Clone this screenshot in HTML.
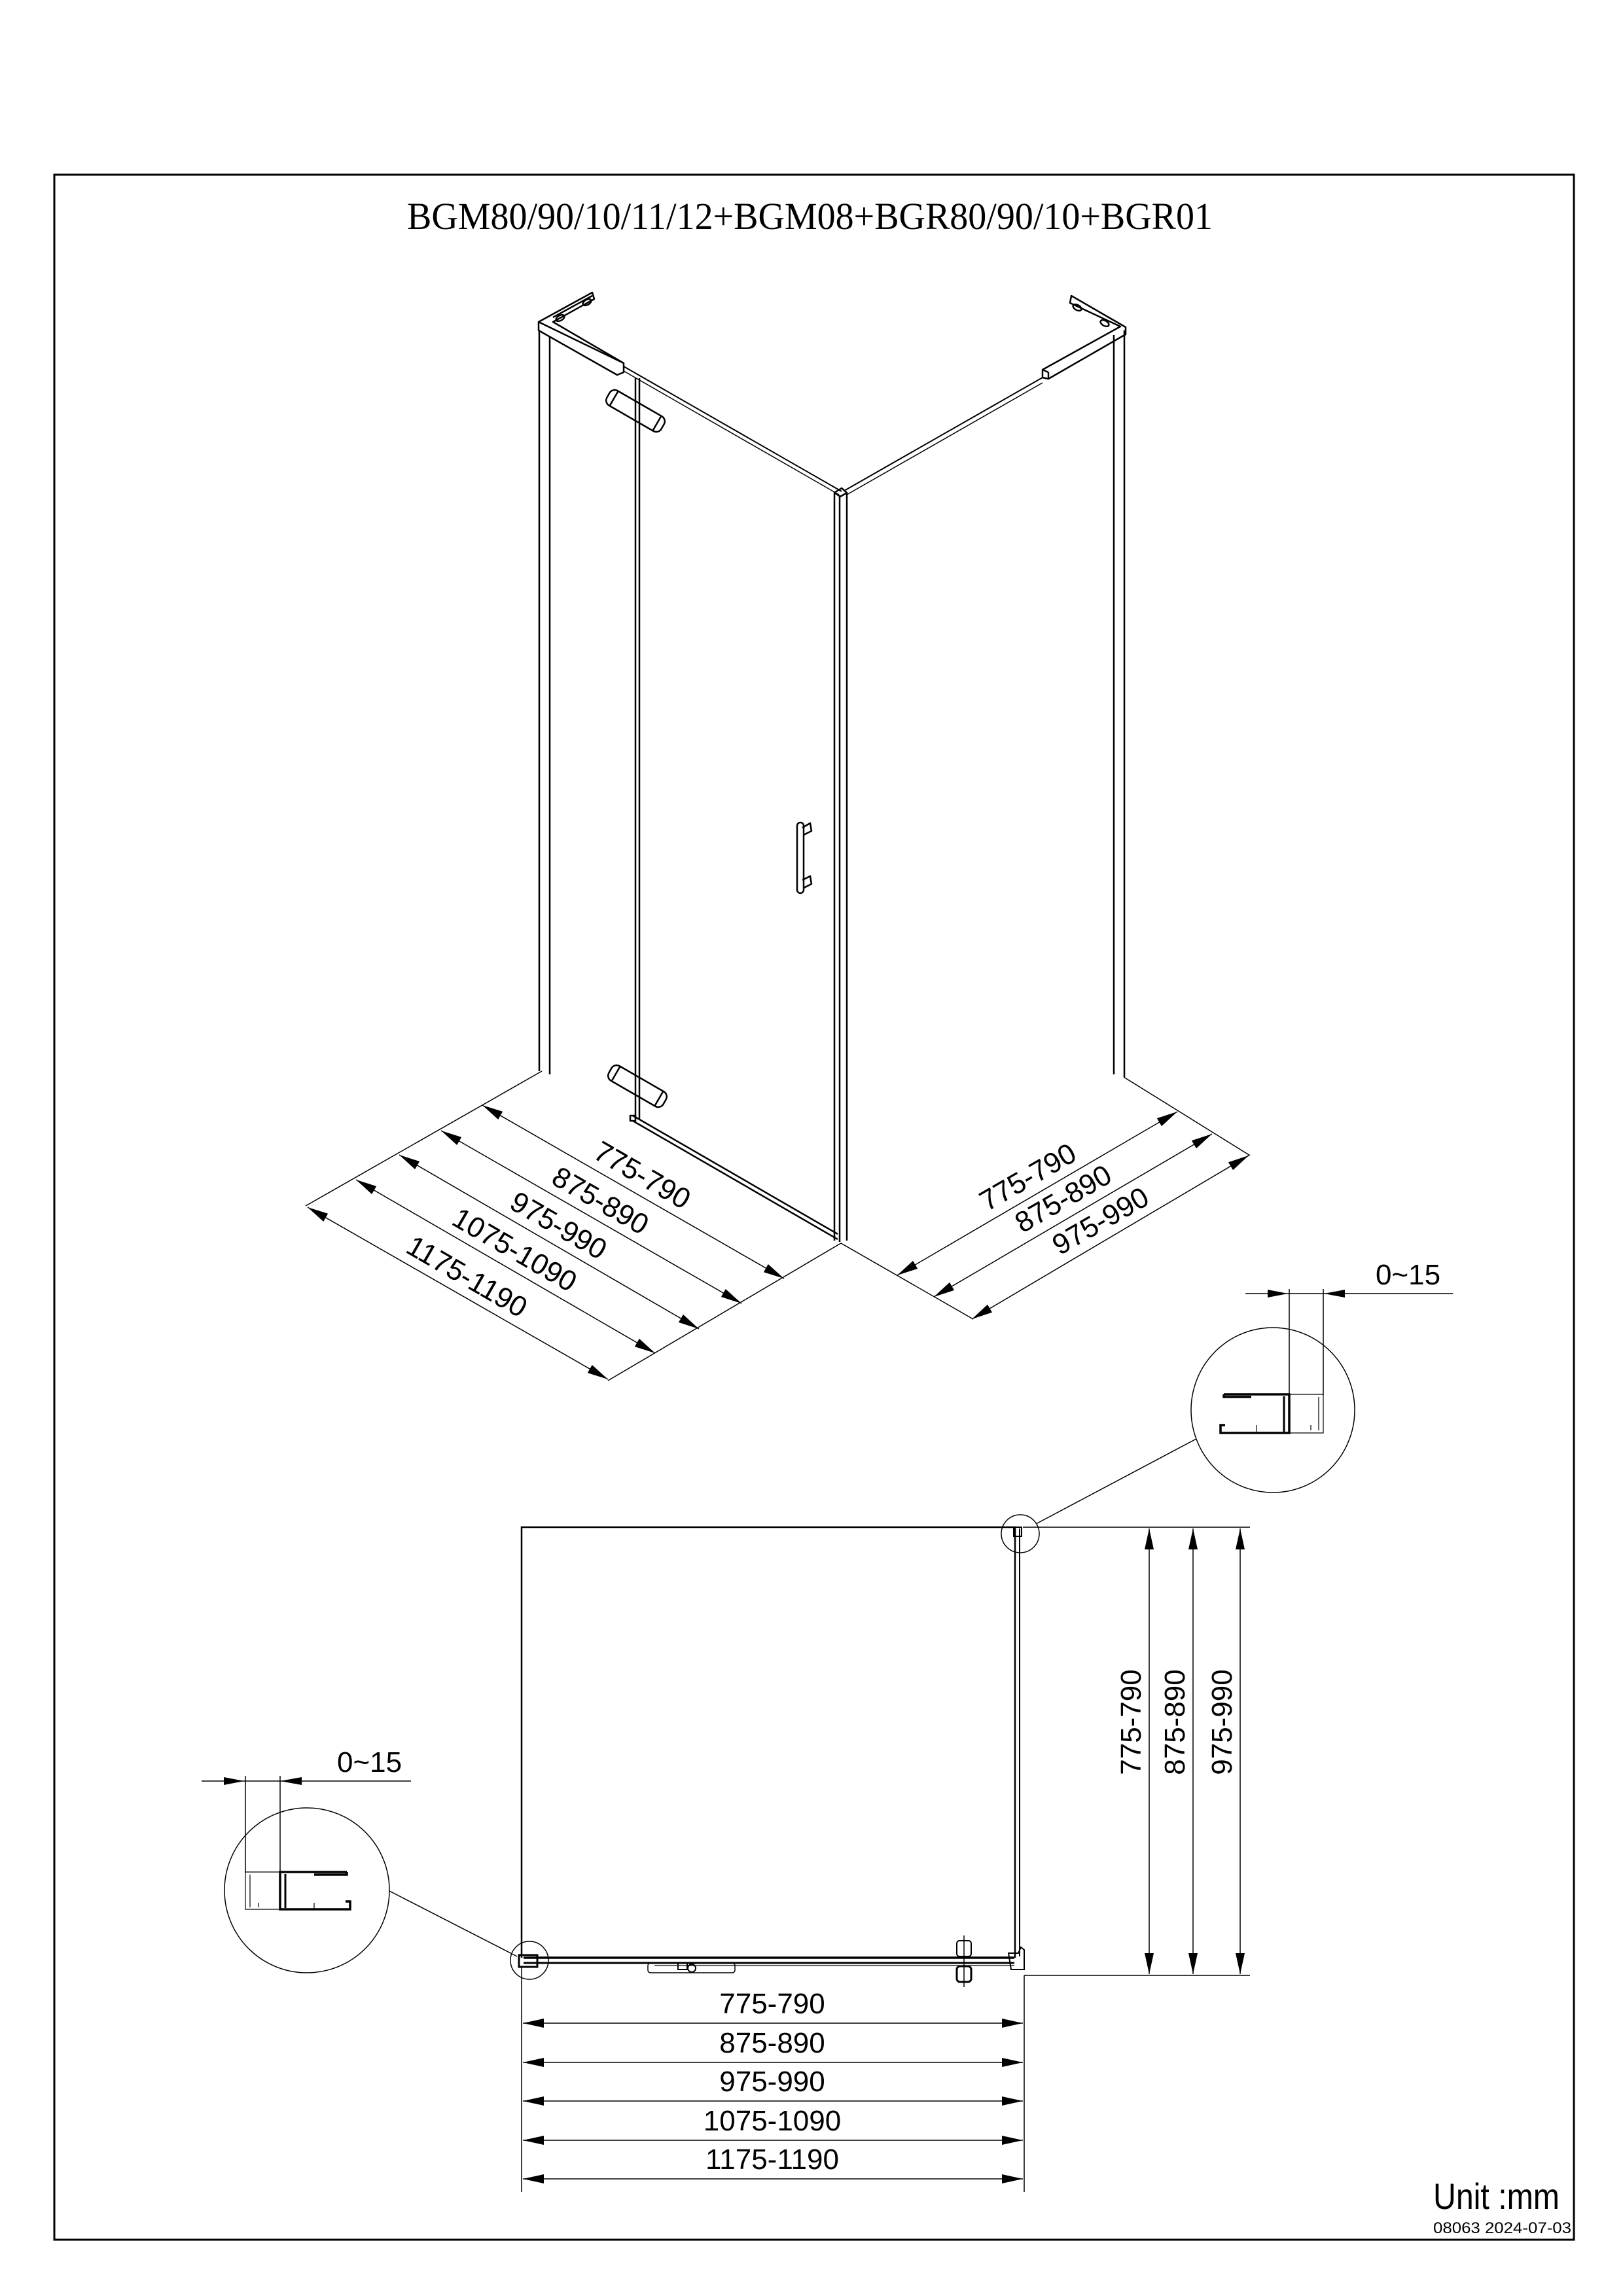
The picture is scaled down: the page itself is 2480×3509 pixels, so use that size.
<!DOCTYPE html>
<html><head><meta charset="utf-8"><style>
html,body{margin:0;padding:0;background:#fff}
svg{display:block}
text{font-family:"Liberation Sans",sans-serif;fill:#000}
</style></head><body>
<svg width="2480" height="3509" viewBox="0 0 2480 3509" xmlns="http://www.w3.org/2000/svg">
<defs>
<marker id="a" markerUnits="userSpaceOnUse" markerWidth="34" markerHeight="14" refX="32" refY="7" orient="auto-start-reverse"><path d="M0,0 L32,7 L0,14 Z" fill="#000"/></marker>
</defs>
<rect x="83" y="267" width="2322" height="3156" fill="none" stroke="#000" stroke-width="3"/>
<text x="622" y="350" font-family="Liberation Serif" font-size="58" textLength="1231" lengthAdjust="spacingAndGlyphs" style="font-family:'Liberation Serif',serif">BGM80/90/10/11/12+BGM08+BGR80/90/10+BGR01</text>

<g fill="none" stroke="#000" stroke-width="2.5" stroke-linejoin="round">
<!-- left bracket -->
<path d="M823,492 L905,447 L908,457 L845,492 L953,555 L953,569 L943,573 L823,505 Z"/>
<path d="M823,492 L953,555"/>
<path d="M845,485 L905,452"/>
<ellipse cx="856" cy="486" rx="7" ry="4" transform="rotate(-30 856 486)"/>
<ellipse cx="897" cy="462" rx="7" ry="4" transform="rotate(-30 897 462)"/>
<!-- left post -->
<line x1="824" y1="505" x2="824" y2="1637"/>
<line x1="840" y1="514" x2="840" y2="1642"/>
<!-- door hinge edge -->
<line x1="971" y1="578" x2="971" y2="1710"/>
<line x1="977" y1="578" x2="977" y2="1710"/>
<!-- top door edge -->
<line x1="953" y1="560" x2="1286" y2="751" stroke-width="2"/>
<line x1="953" y1="567" x2="1282" y2="756" stroke-width="1.5"/>
<!-- corner post -->
<line x1="1275" y1="753" x2="1275" y2="1896"/>
<line x1="1283" y1="757" x2="1283" y2="1898"/>
<line x1="1294" y1="753" x2="1294" y2="1896"/>
<path d="M1275,753 L1286,746 L1294,753 L1284,759 Z"/>
<!-- right top edge -->
<line x1="1290" y1="750" x2="1593" y2="577" stroke-width="2"/>
<line x1="1294" y1="756" x2="1593" y2="585" stroke-width="1.5"/>
<!-- right bracket -->
<path d="M1635,463 L1637,452 L1720,500 L1720,511 L1602,579 L1593,577 L1593,565 L1712,499 Z"/>
<line x1="1593" y1="565" x2="1602" y2="569"/><line x1="1602" y1="569" x2="1602" y2="579"/>
<ellipse cx="1646" cy="470" rx="7" ry="4" transform="rotate(30 1646 470)"/>
<ellipse cx="1688" cy="494" rx="7" ry="4" transform="rotate(30 1688 494)"/>
<!-- right post -->
<line x1="1702" y1="512" x2="1702" y2="1642"/>
<line x1="1718" y1="505" x2="1718" y2="1646"/>
<!-- top hinge -->
<g transform="translate(971,628) rotate(30)"><rect x="-48" y="-13" width="96" height="26" rx="9"/><line x1="-38" y1="-13" x2="-38" y2="13"/><line x1="38" y1="-13" x2="38" y2="13"/></g>
<!-- bottom hinge -->
<g transform="translate(974,1660) rotate(30)"><rect x="-48" y="-13" width="96" height="26" rx="9"/><line x1="-38" y1="-13" x2="-38" y2="13"/><line x1="38" y1="-13" x2="38" y2="13"/></g>
<!-- handle -->
<rect x="1218" y="1257" width="10" height="108" rx="5"/>
<path d="M1226,1265 L1238,1258 L1240,1270 L1228,1276"/>
<path d="M1226,1345 L1238,1339 L1240,1351 L1228,1357"/>
<!-- door bottom -->
<line x1="967" y1="1705" x2="1280" y2="1886"/>
<line x1="967" y1="1713" x2="1280" y2="1894"/>
<rect x="963" y="1705" width="8" height="8"/>
<!-- floor / extension lines -->
<line x1="828" y1="1637" x2="467" y2="1843" stroke-width="1.5"/>
<line x1="1285" y1="1900" x2="929" y2="2110" stroke-width="1.5"/>
<line x1="1717" y1="1646" x2="1910" y2="1766" stroke-width="1.5"/>
<line x1="1285" y1="1900" x2="1487" y2="2016" stroke-width="1.5"/>
</g>

<!-- left iso dims -->
<g stroke="#000" stroke-width="1.5" fill="none">
<line x1="737" y1="1689" x2="1198" y2="1954" marker-start="url(#a)" marker-end="url(#a)"/>
<line x1="674" y1="1728" x2="1133" y2="1992" marker-start="url(#a)" marker-end="url(#a)"/>
<line x1="610" y1="1765" x2="1068" y2="2031" marker-start="url(#a)" marker-end="url(#a)"/>
<line x1="544" y1="1803" x2="1001" y2="2068" marker-start="url(#a)" marker-end="url(#a)"/>
<line x1="470" y1="1845" x2="929" y2="2108" marker-start="url(#a)" marker-end="url(#a)"/>
<line x1="1371" y1="1949" x2="1799" y2="1699" marker-start="url(#a)" marker-end="url(#a)"/>
<line x1="1427" y1="1982" x2="1852" y2="1733" marker-start="url(#a)" marker-end="url(#a)"/>
<line x1="1485" y1="2016" x2="1908" y2="1766" marker-start="url(#a)" marker-end="url(#a)"/>
</g>
<g font-size="44" text-anchor="middle">
<text transform="translate(967,1821) rotate(30)" x="0" y="-14">775-790</text>
<text transform="translate(903,1860) rotate(30)" x="0" y="-14">875-890</text>
<text transform="translate(839,1898) rotate(30)" x="0" y="-14">975-990</text>
<text transform="translate(772,1935) rotate(30)" x="0" y="-14">1075-1090</text>
<text transform="translate(699,1976) rotate(30)" x="0" y="-14">1175-1190</text>
<text transform="translate(1585,1824) rotate(-30)" x="0" y="-14">775-790</text>
<text transform="translate(1639,1857) rotate(-30)" x="0" y="-14">875-890</text>
<text transform="translate(1696,1891) rotate(-30)" x="0" y="-14">975-990</text>
</g>

<!-- top right detail -->
<g stroke="#000" fill="none">
<line x1="1903" y1="1977" x2="2220" y2="1977" stroke-width="1.5" />
<path d="M1937,1971 L1968,1977 L1937,1983 Z M2055,1971 L2023,1977 L2055,1983 Z" fill="#000" stroke="none"/>
<line x1="1970" y1="1970" x2="1970" y2="2132" stroke-width="1.5"/>
<line x1="2022" y1="1970" x2="2022" y2="2132" stroke-width="1.5"/>
<ellipse cx="1945" cy="2155" rx="125" ry="126" stroke-width="1.5"/>
<path d="M1870,2131 L1970,2131 L1970,2190 L1865,2190 L1865,2178 L1872,2178 M1870,2131 L1870,2135 L1912,2135" stroke-width="3.5"/>
<line x1="1962" y1="2134" x2="1962" y2="2188" stroke-width="3"/>
<path d="M1970,2131 L2022,2131 L2022,2190 L1970,2190 M2015,2135 L2015,2186 M2003,2178 L2003,2186 M1920,2178 L1920,2188" stroke-width="1.2"/>
<line x1="1583" y1="2329" x2="1828" y2="2199" stroke-width="1.5"/>
</g>
<text x="2102" y="1963" font-size="44">0~15</text>

<!-- bottom left detail -->
<g stroke="#000" fill="none">
<line x1="308" y1="2722" x2="628" y2="2722" stroke-width="1.5"/>
<path d="M342,2716 L373,2722 L342,2728 Z M461,2716 L428,2722 L461,2728 Z" fill="#000" stroke="none"/>
<line x1="375" y1="2714" x2="375" y2="2862" stroke-width="1.5"/>
<line x1="428" y1="2714" x2="428" y2="2862" stroke-width="1.5"/>
<ellipse cx="469" cy="2889" rx="126" ry="126" stroke-width="1.5"/>
<path d="M530,2861 L428,2861 L428,2918 L535,2918 L535,2906 L528,2906 M530,2861 L530,2865 L480,2865" stroke-width="3.5"/>
<line x1="436" y1="2864" x2="436" y2="2916" stroke-width="3"/>
<path d="M428,2861 L375,2861 L375,2918 L428,2918 M382,2865 L382,2915 M395,2908 L395,2915 M480,2908 L480,2918" stroke-width="1.2"/>
<line x1="595" y1="2890" x2="790" y2="2990" stroke-width="1.5"/>
</g>
<text x="515" y="2708" font-size="44">0~15</text>

<!-- plan view -->
<g stroke="#000" fill="none" stroke-width="2.5">
<path d="M797,2992 L797,2334 L1551,2334 L1551,2992"/>
<line x1="1558" y1="2336" x2="1558" y2="2990" stroke-width="2"/>
<rect x="1549" y="2334" width="12" height="14" stroke-width="2"/>
<line x1="800" y1="2992" x2="1550" y2="2992" stroke-width="3.5"/>
<line x1="800" y1="3000" x2="1550" y2="3000" stroke-width="3"/>
<line x1="1000" y1="3004" x2="1550" y2="3004" stroke-width="1.2"/>
<rect x="793" y="2988" width="28" height="18" stroke-width="3"/>
<rect x="990" y="3000" width="133" height="15" rx="4" stroke-width="1.5"/>
<rect x="1036" y="3000" width="14" height="10" stroke-width="2"/>
<circle cx="1057" cy="3008" r="6" stroke-width="2"/>
<rect x="1462" y="2966" width="22" height="24" rx="4" stroke-width="2"/>
<rect x="1462" y="3005" width="22" height="24" rx="5" stroke-width="3"/>
<line x1="1473" y1="2958" x2="1473" y2="3037" stroke-width="1.5"/>
<path d="M1541,2985 L1556,2985 L1560,2976 L1565,2980 L1565,3010 L1545,3010 Z" stroke-width="2"/>
<circle cx="809" cy="2996" r="29" stroke-width="1.5"/>
<circle cx="1559" cy="2344" r="29" stroke-width="1.5"/>
</g>
<!-- plan dims -->
<g stroke="#000" fill="none" stroke-width="1.5">
<line x1="1563" y1="2334" x2="1910" y2="2334"/>
<line x1="1565" y1="3019" x2="1910" y2="3019"/>
<line x1="1756" y1="2336" x2="1756" y2="3017" marker-start="url(#a)" marker-end="url(#a)"/>
<line x1="1823" y1="2336" x2="1823" y2="3017" marker-start="url(#a)" marker-end="url(#a)"/>
<line x1="1895" y1="2336" x2="1895" y2="3017" marker-start="url(#a)" marker-end="url(#a)"/>
<line x1="797" y1="3005" x2="797" y2="3350"/>
<line x1="1565" y1="3019" x2="1565" y2="3350"/>
<line x1="799" y1="3092" x2="1563" y2="3092" marker-start="url(#a)" marker-end="url(#a)"/>
<line x1="799" y1="3152" x2="1563" y2="3152" marker-start="url(#a)" marker-end="url(#a)"/>
<line x1="799" y1="3211" x2="1563" y2="3211" marker-start="url(#a)" marker-end="url(#a)"/>
<line x1="799" y1="3271" x2="1563" y2="3271" marker-start="url(#a)" marker-end="url(#a)"/>
<line x1="799" y1="3330" x2="1563" y2="3330" marker-start="url(#a)" marker-end="url(#a)"/>
</g>
<g font-size="44" text-anchor="middle">
<text transform="translate(1743,2632) rotate(-90)">775-790</text>
<text transform="translate(1810,2632) rotate(-90)">875-890</text>
<text transform="translate(1882,2632) rotate(-90)">975-990</text>
<text x="1180" y="3077">775-790</text>
<text x="1180" y="3137">875-890</text>
<text x="1180" y="3196">975-990</text>
<text x="1180" y="3256">1075-1090</text>
<text x="1180" y="3315">1175-1190</text>
</g>
<text x="2190" y="3376" font-size="56" textLength="193" lengthAdjust="spacingAndGlyphs">Unit :mm</text>
<text x="2190" y="3413" font-size="24" textLength="211" lengthAdjust="spacingAndGlyphs">08063  2024-07-03</text>
</svg>
</body></html>
